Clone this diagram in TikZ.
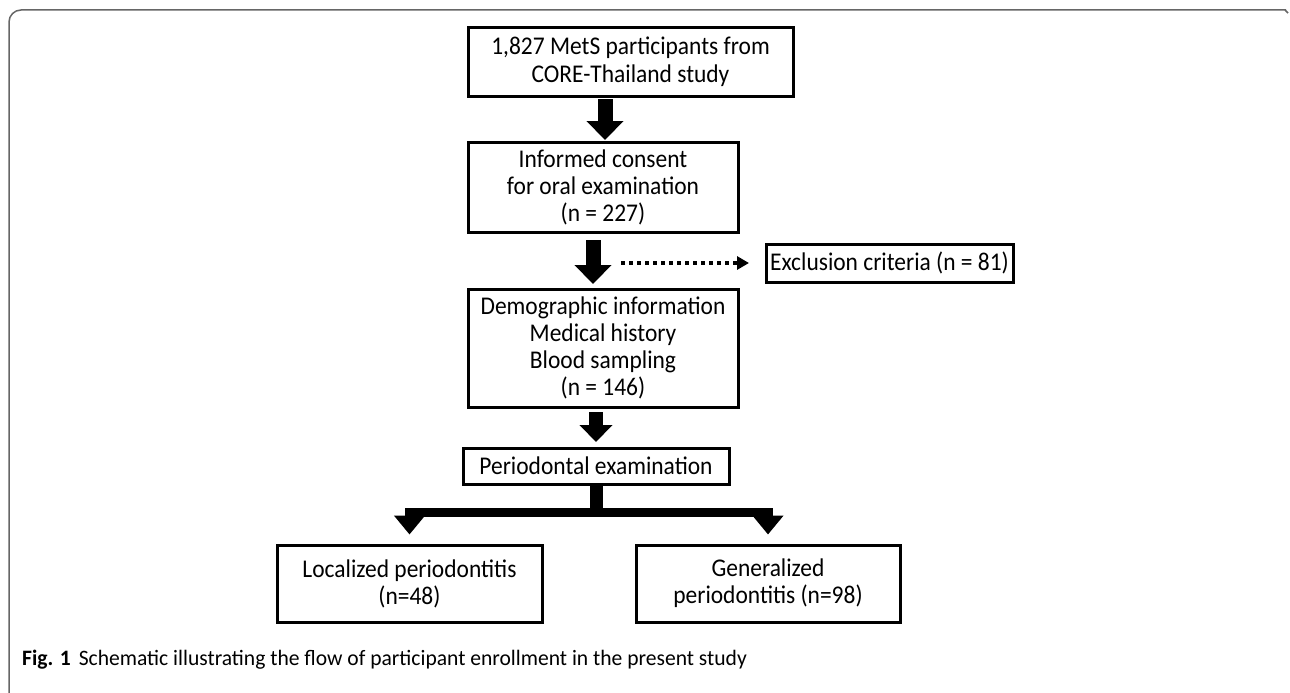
\documentclass[tikz,border=0pt]{standalone}
\usepackage{fontspec}
\setmainfont{Carlito}
\usetikzlibrary{arrows.meta}
\begin{document}
\begin{tikzpicture}[x=1pt,y=-1pt,
  boxst/.style={draw=black, line width=3pt, align=center, inner sep=0pt,
    font=\fontsize{25.5}{27}\selectfont\addfontfeature{FakeStretch=0.92}},
  blockarrow/.style={line width=15pt, -{Triangle[width=36pt,length=19pt]}},
  smallarrow/.style={line width=14pt, -{Triangle[width=32pt,length=17pt]}},
  dotarrow/.style={line width=3.5pt, dash pattern=on 4pt off 4pt, -{Triangle[width=13pt,length=12pt]}}]
\useasboundingbox (0,0) rectangle (1290,693);
\fill[white] (0,0) rectangle (1290,693);
% frame
\draw[gray!80!black, line width=1.5pt, rounded corners=12pt] (9,693) -- (9,10) -- (1286,10);
\draw[gray!80!black, line width=1.5pt] (1285,10) -- (1288,13);
% boxes
\node[boxst, minimum width=325pt, minimum height=68pt, font=\fontsize{25.5}{28}\selectfont\addfontfeature{FakeStretch=0.92}] (b1) at (630.5,62) {1,827 MetS participants from\\CORE-Thailand study};
\node[boxst, minimum width=270pt, minimum height=90pt] (b2) at (603,187) {Informed consent\\for oral examination\\(n = 227)};
\node[boxst, minimum width=247pt, minimum height=38pt] (ex) at (889.5,263) {Exclusion criteria (n = 81)};
\node[boxst, minimum width=270pt, minimum height=118pt] (b3) at (603,348) {Demographic information\\Medical history\\Blood sampling\\(n = 146)};
\node[boxst, minimum width=266pt, minimum height=36pt] (b4) at (596,466) {Periodontal examination};
\node[boxst, minimum width=265pt, minimum height=77pt] (b5) at (409.5,583.5) {Localized periodontitis\\(n=48)};
\node[boxst, minimum width=264pt, minimum height=77pt] (b6) at (768,583.5) {Generalized\\periodontitis (n=98)};
% arrows
\coordinate (a1s) at (605,99); \coordinate (a1e) at (605,140);
\draw[blockarrow] (a1s) -- (a1e);
\coordinate (a2s) at (593,240); \coordinate (a2e) at (593,284);
\draw[blockarrow] (a2s) -- (a2e);
\coordinate (ds) at (621,263); \coordinate (de) at (749,263);
\draw[dotarrow] (ds) -- (de);
\coordinate (a3s) at (596,412); \coordinate (a3e) at (596,442);
\draw[smallarrow] (a3s) -- (a3e);
% branch
\coordinate (bm) at (596,512.5);
\draw[line width=13pt] (b4.south) -- ([yshift=-4pt]bm);
\draw[line width=9pt, line join=miter, -{Triangle[width=30pt,length=19pt]}] (bm) -| ([yshift=9pt]b5.north);
\draw[line width=9pt, line join=miter, -{Triangle[width=30pt,length=19pt]}] (bm) -| ([yshift=9pt]b6.north);
% caption
\node[anchor=west, inner sep=0pt, font=\fontsize{22}{24}\selectfont\addfontfeature{FakeStretch=0.98}] (cap) at (22,660) {\textbf{Fig. 1}\hspace{8pt}Schematic illustrating the flow of participant enrollment in the present study};
\end{tikzpicture}
\end{document}
